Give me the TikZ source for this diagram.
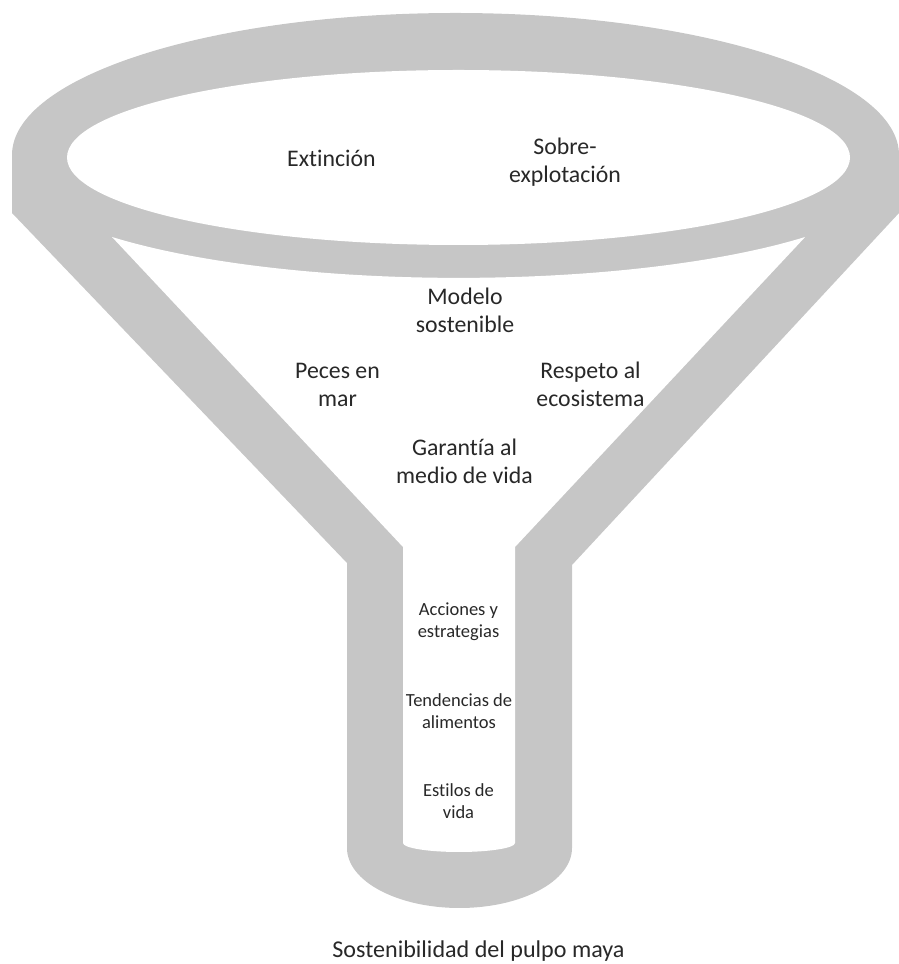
\documentclass[tikz,border=0pt]{standalone}
\usepackage{fontspec}
\setmainfont{Carlito}[Ligatures=NoCommon]
\definecolor{funnelgray}{RGB}{198,198,198}
\definecolor{txt}{RGB}{40,40,40}
\tikzset{
  big/.style={inner sep=0pt, align=center, text=txt, font=\fontsize{23.8}{28}\selectfont},
  small/.style={inner sep=0pt, align=center, text=txt, font=\fontsize{18.5}{21.5}\selectfont},
}
\begin{document}
\begin{tikzpicture}[x=1pt,y=1pt]
\useasboundingbox (0,0) rectangle (899,964);
% funnel silhouette
\fill[funnelgray] (12,751) -- (12,809)
  arc[start angle=180,end angle=0,x radius=443.5,y radius=142]
  -- (899,751) -- (572,399) -- (572,116)
  arc[start angle=0,end angle=-180,x radius=112.5,y radius=60]
  -- (347,401) -- cycle;
% mouth
\fill[white] (458.5,806.5) ellipse[x radius=391.5,y radius=87.5];
% cone interior and neck
\fill[white] (112,727)
  arc[start angle=218.6,end angle=321.4,x radius=443.5,y radius=108.7]
  -- (515,417) -- (515,121)
  arc[start angle=0,end angle=-180,x radius=56,y radius=9]
  -- (403,417) -- cycle;
% texts
\node[big] (ext) at (331.5,805.5) {Extinción};
\node[big] (sobre) at (565,802) {Sobre-\\explotación};
\node[big] (modelo) at (465,653.5) {Modelo\\sostenible};
\node[big] (peces) at (337.5,579) {Peces en\\mar};
\node[big] (respeto) at (590.5,579.5) {Respeto al\\ecosistema};
\node[big] (garantia) at (464.5,503) {Garantía al\\medio de vida};
\node[small] (acciones) at (458.5,342.5) {Acciones y\\estrategias};
\node[small] (tendencias) at (459,253) {Tendencias de\\alimentos};
\node[small] (estilos) at (458.5,163) {Estilos de\\vida};
\node[big, anchor=base, font=\fontsize{24.1}{28}\selectfont] (titulo) at (478.5,6.5) {Sostenibilidad del pulpo maya};
\end{tikzpicture}
\end{document}
